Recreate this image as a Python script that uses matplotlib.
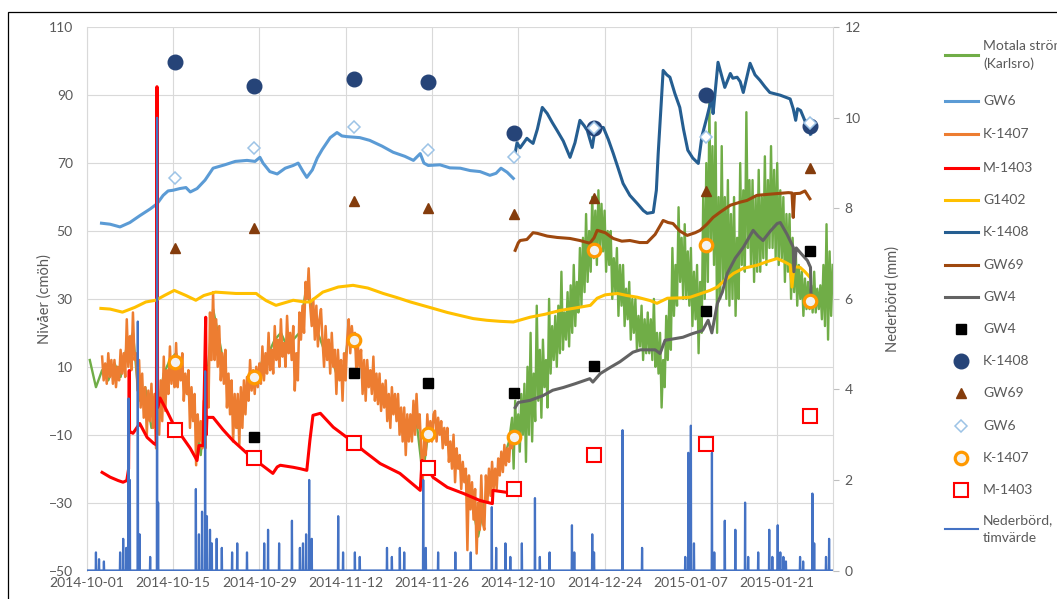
import numpy as np
import pandas as pd
import matplotlib
matplotlib.use('Agg')
import matplotlib.pyplot as plt
import matplotlib.dates as mdates
from matplotlib.lines import Line2D
from matplotlib.patches import Rectangle

start = pd.Timestamp('2014-10-01')

# --- levels, x in days after 2014-10-01 ---
gw6_days = [2.4, 3.8, 5.4, 7.0, 8.6, 10.3, 11.4, 12.4, 13.2, 14.0, 15.1, 16.1, 16.8, 17.9, 19.2,
            20.5, 22.4, 24.1, 26.0, 27.3, 28.1, 28.6, 29.7, 30.9, 32.2, 33.5, 34.3, 35.1, 35.7,
            36.6, 37.4, 38.2, 39.5, 40.6, 41.4, 42.2, 44.3, 45.9, 47.9, 49.7, 51.6, 53.0, 54.1,
            54.7, 55.4, 57.3, 58.9, 60.6, 62.2, 63.8, 65.4, 66.4, 67.2, 68.2, 69.2]
gw6_vals = [52.3, 52, 51.2, 52.5, 54.5, 56.5, 58, 60.5, 61.8, 62, 62.5, 62.8, 61.5, 62.5, 65,
            68.5, 69.5, 70.5, 70.8, 70.5, 71.7, 70, 67.5, 66.8, 68.5, 69.3, 70, 67.5, 65.8,
            68, 71.5, 74, 77.5, 79, 78, 77.8, 77.5, 76.7, 75, 73.2, 72, 70.8, 72.8,
            70, 69.3, 69.5, 68.6, 68.5, 67.8, 67.5, 66.4, 67, 68.5, 67.3, 65.5]

# K-1407, quarter-day readings from day 2.5
k1407_start = 2.5
k1407_vals = [13, 6, 11, 5, 14, 7, 12, 5,
              12, 4, 10, 6, 15, 8, 14, 7,
              24, 10, 19, 9, 26, 12, 14, 3,
              12, -2, 8, -5, 4, -10, 3, -6,
              5, -8, 2, -14, 0, -10, 6, -6,
              13, -3, 9, 2, 16, 5, 12, 4,
              17, 4, 11, 6, 14, 0, 8, 2,
              9, -8, 4, -6, 2, -19, -4, -12,
              -6, -14, 0, -14, 10, -2, 26, 12,
              32, 12, 24, 10, 22, 6, 14, 5,
              15, -2, 8, -4, 6, -12, 2, -8,
              2, -13, 4, -8, 6, -4, 7, 0,
              12, 3, 9, 2, 10, 4, 11, 5,
              16, 6, 14, 8, 20, 9, 15, 8,
              22, 12, 18, 10, 24, 13, 17, 10,
              25, 14, 20, 12, 22, 3, 14, 6,
              26, 18, 28, 20, 35, 30, 39, 28,
              22, 30, 18, 28, 16, 24, 27, 18,
              10, 22, 12, 18, 8, 20, 10, 15,
              2, 15, 6, 12, 0, 14, 6, 18,
              24, 14, 22, 17, 20, 8, 16, 10,
              15, 2, 12, 0, 12, 4, 9, 2,
              13, 0, 8, -1, 8, -3, 5, -2,
              6, -6, 2, -8, 4, -4, 2, -6,
              2, -10, -2, -12, -2, -16, -4, -12,
              -4, -12, 0, -10, 2, -8, -4, -14,
              -24, -10, -16, -4, -12, -6, -12, -4,
              -3, -12, -5, -10, -6, -14, -8, -13,
              -8, -18, -12, -20, -10, -24, -14, -20,
              -16, -26, -18, -24, -20, -44, -22, -32,
              -24, -35, -26, -45, -30, -38, -22, -36,
              -38, -22, -30, -20, -28, -18, -26, -20,
              -26, -17, -22, -15, -21, -13, -19, -14,
              -18, -11, -14, -10, -11]

# Motala ström: daily readings first (mostly under K-1407), then quarter-day from day 69
motala_early_start = 0.5
motala_early = [12, 4, 9, 6, 11, 7, 16, 20, 0, 4,
                -8, -3, 8, 12, 14, 8, 2, -4, -16, 6,
                27, 18, 8, 2, -8, -2, 8, 6, 12, 14,
                18, 20, 16, 18, 20, 32, 28, 20, 15, 14,
                8, 6, 20, 16, 10, 6, 6, 3, 0, -2,
                -4, -8, -10, -6, -22, -8, -6, -8, -12, -16,
                -20, -22, -30, -40, -30, -24, -22, -18, -12]
motala_late_start = 69.0
motala_late = [-5, -20, 0, -12, -4, -15, 2, -10,
               5, -18, 10, -10, 20, -12, 8, -6,
               28, 0, 15, -5, 18, 4, 12, -2,
               30, 8, 22, 12, 25, 10, 28, 14,
               38, 15, 26, 18, 32, 16, 34, 20,
               40, 22, 35, 26, 45, 28, 48, 32,
               55, 35, 50, 38, 60, 42, 56, 40,
               62, 45, 58, 44, 56, 38, 50, 40,
               50, 30, 42, 32, 45, 25, 40, 28,
               40, 22, 33, 24, 35, 18, 30, 20,
               30, 15, 25, 16, 28, 12, 24, 14,
               26, 14, 24, 12, 30, 10, 20, 8,
               20, -2, 12, 4, 25, 12, 30, 15,
               45, 25, 40, 28, 57, 35, 48, 30,
               52, 30, 44, 28, 45, 22, 38, 24,
               40, 14, 35, 20, 60, 30, 70, 35,
               88, 45, 75, 40, 82, 20, 60, 30,
               75, 35, 60, 30, 65, 28, 55, 30,
               60, 25, 48, 30, 70, 40, 62, 38,
               85, 45, 65, 40, 65, 35, 60, 38,
               68, 38, 60, 42, 72, 40, 65, 45,
               75, 45, 68, 42, 70, 40, 62, 42,
               60, 35, 55, 38, 55, 30, 48, 32,
               45, 28, 40, 30, 38, 25, 36, 27,
               35, 27, 34, 26, 38, 26, 33, 27,
               34, 24, 40, 22, 52, 18, 44, 25,
               40]

m1403_days = [2.5, 3.8, 5.1, 5.9, 6.5, 6.8, 6.9, 6.95, 7.5, 8.6, 9.8, 10.9, 11.3, 11.4, 11.5,
              11.9, 13.0, 14.0, 15.1, 16.8, 17.9, 18.2, 18.9, 19.3, 19.4, 19.5, 20.5, 22.1, 23.7,
              26.0, 28.1, 30.2, 30.9, 31.4, 33.5, 34.6, 35.7, 36.2, 36.7, 37.9, 40.0, 42.2, 43.5,
              44.8, 47.6, 50.8, 54.1, 54.4, 56.2, 58.5, 61.1, 63.8, 65.8, 65.9, 68.2, 69.2]
m1403_vals = [-21.1, -22.5, -23.5, -24, -23.5, -20, 8.9, -9, -9.6, -6.7, -10.8, -12.6, -13, 92.5, -2,
              0.8, -3, -6.7, -9.6, -14, -17.6, -13.2, -13.2, 24.6, -10, -4.9, -4.9, -8.5, -11.7,
              -15.5, -18.5, -21.4, -19.5, -19, -19.6, -20, -20.5, -11.7, -4.3, -3.7, -7.8, -10.8, -12.3,
              -14.6, -18.5, -21.4, -26.4, -17.6, -22.6, -25.5, -27.3, -29.4, -30.3, -26.4, -27, -27.3]

g1402_days = [2.3, 3.8, 5.8, 7.8, 9.6, 11.2, 12.6, 14.2, 16.1, 17.7, 19.0, 20.9, 24.2, 27.5, 27.9,
              29.1, 30.7, 33.5, 35.3, 36.2, 38.3, 40.8, 43.2, 45.6, 48.1, 50.3, 52.5, 56.2, 58.5,
              60.6, 62.7, 64.9, 67.0, 69.2, 71.9, 74.4, 76.8, 79.2, 81.7, 82.8, 84.1, 86.1, 87.6,
              89.3, 91.4, 92.5, 94.2, 96.3, 97.9, 99.5, 101.1, 102.3, 103.2, 104.9, 106.5, 108.7,
              110.4, 112.0, 113.3, 114.1, 114.4, 114.7, 115.7, 116.5, 117.3]
g1402_vals = [27.2, 27, 26.1, 27.5, 29.1, 29.6, 31, 32.5, 31, 29.6, 31, 32, 31.6, 31.6, 31,
              29.5, 28.1, 29.6, 29.1, 29.1, 32, 33.5, 34, 33.2, 31.6, 30.4, 29.1, 27.2, 26,
              25.1, 24.2, 23.7, 23.4, 23.2, 24.6, 25.5, 26.6, 27.3, 28.1, 30.2, 31.2, 31.6, 31,
              30.5, 29.5, 28.7, 30.2, 30.3, 30.5, 31.5, 32.5, 33.5, 35, 37.5, 39, 39.9,
              41, 41.9, 40.8, 40, 33.5, 39.5, 39.3, 38, 36.4]

k1408_days = [69.5, 69.8, 70.3, 71.4, 71.9, 72.4, 73.1, 73.9, 74.7, 75.5, 76.3, 77.3, 78.4, 79.2,
              80.0, 80.7, 81.2, 82.0, 82.5, 83.8, 84.6, 85.4, 86.2, 87.0, 88.1, 89.3, 90.3, 90.9,
              91.9, 92.4, 92.7, 93.2, 93.5, 94.1, 94.6, 95.4, 96.2, 96.8, 97.5, 98.3, 99.2, 99.8,
              100.6, 101.4, 101.6, 102.4, 103.1, 103.5, 104.4, 104.8, 105.5, 106.0, 106.5, 107.6,
              108.4, 109.2, 110.0, 110.8, 112.5, 114.1, 114.6, 115.0, 115.3, 115.8, 116.6, 117.4]
k1408_vals = [73, 76, 74.5, 77.3, 76.5, 75.8, 80, 86.4, 84.6, 82, 79.6, 76.5, 71.7, 76,
              82.6, 81, 79.6, 74.6, 80.5, 80.5, 77, 72.9, 68.5, 64, 60.5, 58.1, 56, 55.2,
              55.5, 62, 72.9, 88, 97.3, 96, 95.3, 90.5, 86.4, 80, 73.8, 71.5, 69.9, 78,
              83.5, 89.4, 84.6, 99.7, 95, 92.3, 96.4, 95, 95.3, 94, 90.8, 99.4,
              96, 94.4, 92.5, 90.8, 90, 88.9, 86, 82.6, 86, 85.5, 82, 78.5]

gw69_days = [69.5, 70.0, 70.3, 71.4, 72.4, 73.1, 74.7, 76.3, 78.4, 80.0, 81.6, 82.3, 82.8, 84.1,
             85.4, 86.8, 88.1, 89.7, 90.9, 92.2, 93.5, 94.3, 95.1, 96.2, 97.4, 98.7, 99.5, 100.6,
             101.6, 102.7, 104.4, 106.0, 107.1, 108.7, 110.5, 112.5, 113.8, 114.4, 114.6, 114.8,
             115.7, 116.5, 117.3]
gw69_vals = [44.3, 46.5, 47.2, 47.5, 49.5, 49.3, 48.5, 48.1, 47.8, 47.2, 46.4, 48, 50.2, 49.5,
             47.8, 47, 47.2, 46.6, 46.6, 49, 53.1, 52.5, 52.2, 50, 48.7, 49.5, 50.2, 52,
             54, 55.5, 57.6, 58.5, 59, 60.5, 60.8, 61.1, 61.3, 61.2, 54, 61,
             61.1, 61.8, 59.5]

gw4_days = [69.5, 70.0, 71.9, 74.0, 75.6, 77.3, 79.2, 81.6, 82.1, 83.3, 84.9, 86.5, 88.6, 89.8,
            92.2, 93.0, 93.8, 96.7, 98.3, 99.9, 100.8, 101.4, 102.3, 103.1, 103.9, 105.2, 106.5,
            108.1, 108.9, 109.7, 110.9, 112.0, 112.5, 113.6, 114.6, 114.7, 115.1, 115.8, 116.9,
            117.4, 117.5]
gw4_vals = [-2, -0.5, 0.1, 1.5, 3.1, 3.9, 5, 6.5, 5.5, 8, 9.8, 11.5, 14.3, 15,
            15, 13.9, 17.8, 18.7, 19.8, 20.7, 23.7, 20, 28.7, 32, 37.5, 42, 45.2,
            50.2, 48.5, 47.2, 50, 52.2, 52.5, 49, 45.2, 38, 45, 43.5, 41.3,
            39.3, 29.6]

# manual readings on survey dates
survey_days = [14.3, 27.1, 43.4, 55.4, 69.3, 82.3, 100.5, 117.3]
gw4_pts = [-8, -10.8, 8.1, 5.2, 2.2, 10.1, 26.3, 44]
k1408_pts = [99.7, 92.6, 94.7, 93.8, 79, 80.2, 90, 81]
gw69_pts = [44.9, 50.8, 58.7, 56.7, 54.9, 59.6, 61.7, 68.5]
gw6_pts = [65.5, 74.4, 80.5, 73.8, 71.7, 80.2, 77.6, 81.7]
k1407_pts = [11.3, 6.9, 18, -9.9, -10.8, 44.3, 46, 29.3]
m1403_pts = [-8.7, -17, -12.3, -19.9, -26.1, -16.1, -12.6, -4.6]

# hourly precipitation, only the non-zero hours
rain_days = [1.5, 2.0, 2.8, 5.4, 5.9, 6.4, 6.8, 7.0, 8.3, 8.6, 10.3, 11.4, 11.6, 17.7, 18.2,
             18.7, 19.2, 19.5, 20.0, 20.3, 21.1, 21.9, 23.6, 24.4, 26.0, 28.8, 29.4, 31.2, 33.3,
             34.6, 35.1, 35.6, 36.1, 36.5, 40.8, 41.6, 43.5, 44.3, 48.7, 49.5, 50.8, 51.5, 54.6,
             55.0, 57.0, 59.8, 62.3, 65.7, 66.4, 67.9, 68.7, 70.6, 72.7, 73.5, 75.1, 78.7, 79.1,
             82.0, 82.3, 86.9, 90.1, 97.1, 97.6, 98.0, 98.5, 101.4, 101.8, 103.5, 105.2, 106.8,
             107.3, 108.9, 110.7, 111.2, 112.1, 112.5, 113.0, 113.4, 115.7, 116.2, 117.7, 118.0,
             119.9, 120.4]
rain_mm = [0.4, 0.25, 0.2, 0.4, 0.7, 0.5, 3.8, 2.0, 5.5, 0.8, 0.3, 10.0, 1.5, 1.8, 0.8,
           1.3, 4.4, 1.2, 0.9, 0.6, 0.7, 0.5, 0.4, 0.6, 0.4, 0.6, 0.9, 0.6, 1.1,
           0.5, 0.6, 0.8, 2.0, 0.7, 1.2, 0.4, 0.4, 0.3, 0.5, 0.3, 0.5, 0.4, 2.0,
           0.5, 0.4, 0.4, 0.4, 1.4, 0.5, 0.6, 0.3, 0.6, 1.6, 0.3, 0.4, 1.0, 0.4,
           0.8, 0.4, 3.1, 0.5, 0.3, 2.6, 3.2, 0.6, 2.6, 0.4, 1.1, 0.9, 1.5,
           0.3, 0.4, 0.9, 0.3, 1.0, 0.4, 0.3, 0.2, 0.3, 0.2, 1.7, 0.6,
           0.3, 0.7]


def to_dates(days):
    return start + pd.to_timedelta(np.asarray(days, dtype=float), unit='D')


def step_days(first, n, step):
    return first + step * np.arange(n)


plt.rcParams['font.family'] = ['Lato', 'DejaVu Sans']
grey = '#595959'
W, H = 1057, 599
fig = plt.figure(figsize=(W / 100, H / 100), dpi=100)
fig.add_artist(Rectangle((8 / W, -0.1), 1.2, 1.1 - 12 / H, transform=fig.transFigure,
                         fill=False, ec='black', lw=0.9))

ax = fig.add_axes([86.7 / W, 1 - 570.5 / H, (833.3 - 86.7) / W, (570.5 - 27.3) / H])
lw = 2.2
ax.plot(to_dates(np.concatenate([step_days(motala_early_start, len(motala_early), 1.0),
                                 step_days(motala_late_start, len(motala_late), 0.25)])),
        motala_early + motala_late, color='#70AD47', lw=1.7)
ax.plot(to_dates(gw6_days), gw6_vals, color='#5B9BD5', lw=lw)
ax.plot(to_dates(step_days(k1407_start, len(k1407_vals), 0.25)), k1407_vals,
        color='#ED7D31', lw=1.8)
ax.plot(to_dates(m1403_days), m1403_vals, color='#FF0000', lw=lw)
ax.plot(to_dates(g1402_days), g1402_vals, color='#FFC000', lw=lw)
ax.plot(to_dates(k1408_days), k1408_vals, color='#255E91', lw=lw)
ax.plot(to_dates(gw69_days), gw69_vals, color='#9E480E', lw=lw)
ax.plot(to_dates(gw4_days), gw4_vals, color='#636363', lw=lw)

sd = to_dates(survey_days)
marker_styles = [
    (gw4_pts, dict(marker='s', ms=7, mfc='black', mec='black')),
    (k1408_pts, dict(marker='o', ms=10.5, mfc='#264478', mec='#264478')),
    (gw69_pts, dict(marker='^', ms=7.5, mfc='#843C0C', mec='#843C0C')),
    (gw6_pts, dict(marker='D', ms=6.5, mfc='white', mec='#9DC3E6', mew=1.1)),
    (k1407_pts, dict(marker='o', ms=9, mfc='#F2F2F2', mec='#FF9900', mew=2.3)),
    (m1403_pts, dict(marker='s', ms=9.5, mfc='white', mec='#FF0000', mew=1.5)),
]
for vals, st in marker_styles:
    ax.plot(sd, vals, ls='none', **st)

ax.set_ylim(-50, 110)
ax.set_yticks(np.arange(-50, 111, 20))
ax.set_xlim(start, start + pd.Timedelta(days=121.1))
ax.set_xticks(to_dates(np.arange(0, 120, 14)))
ax.xaxis.set_major_formatter(mdates.DateFormatter('%Y-%m-%d'))
ax.grid(True, color='#D9D9D9', lw=0.8)
ax.set_axisbelow(True)
for s in ax.spines.values():
    s.set_visible(False)
ax.spines['left'].set_visible(True)
ax.spines['left'].set_color('#D9D9D9')
ax.tick_params(axis='both', length=0, colors=grey, labelsize=10)
ax.tick_params(axis='y', pad=10)
ax.tick_params(axis='x', pad=5)
ax.set_ylabel('Nivåer (cmöh)', color=grey, fontsize=10.5, labelpad=-2)

ax2 = ax.twinx()
hours = np.arange(int(121.1 * 24) + 1) / 24.0
rain = np.zeros_like(hours)
for d, v in zip(rain_days, rain_mm):
    rain[int(round(d * 24))] = v
ax2.plot(to_dates(hours), rain, color='#4472C4', lw=1.6)
ax2.set_ylim(0, 12)
ax2.set_yticks(np.arange(0, 13, 2))
for s in ax2.spines.values():
    s.set_visible(False)
ax2.spines['right'].set_visible(True)
ax2.spines['right'].set_color('#D9D9D9')
ax2.tick_params(axis='y', length=4, color='#BFBFBF', labelcolor=grey, labelsize=10, pad=4)
ax2.set_ylabel('Nederbörd (mm)', color=grey, fontsize=10.5, labelpad=18)

# legend, drawn row by row
legend_rows = [
    (55, 'Motala ström\n(Karlsro)', dict(color='#70AD47', lw=lw)),
    (101, 'GW6', dict(color='#5B9BD5', lw=lw)),
    (134, 'K-1407', dict(color='#ED7D31', lw=lw)),
    (168, 'M-1403', dict(color='#FF0000', lw=lw)),
    (200, 'G1402', dict(color='#FFC000', lw=lw)),
    (232, 'K-1408', dict(color='#255E91', lw=lw)),
    (265, 'GW69', dict(color='#9E480E', lw=lw)),
    (297, 'GW4', dict(color='#636363', lw=lw)),
]
for k, (pts, st) in enumerate(marker_styles):
    legend_rows.append((329 + 32.2 * k, ['GW4', 'K-1408', 'GW69', 'GW6', 'K-1407', 'M-1403'][k], st))
legend_rows.append((529, 'Nederbörd,\ntimvärde', dict(color='#4472C4', lw=1.5)))

for y, label, st in legend_rows:
    yf = 1 - y / H
    if 'marker' in st:
        fig.add_artist(Line2D([961 / W], [yf], ls='none', transform=fig.transFigure, **st))
    else:
        fig.add_artist(Line2D([945 / W, 978 / W], [yf, yf], transform=fig.transFigure, **st))
    fig.text(983 / W, yf, label, color=grey, fontsize=10, va='center', ha='left',
             linespacing=1.5)

fig.savefig('out.png', dpi=100)
